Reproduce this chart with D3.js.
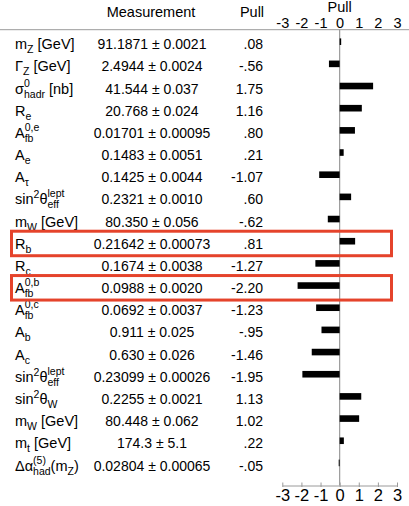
<!DOCTYPE html>
<html>
<head>
<meta charset="utf-8">
<script src="https://cdn.jsdelivr.net/npm/d3@7"></script>
<style>
  html, body { margin: 0; padding: 0; background: #fff; }
  svg { display: block; font-family: "Liberation Sans", Arial, Helvetica, sans-serif; }
</style>
</head>
<body>
<svg id="chart" width="409" height="506"></svg>
<script>
// ---------------- data ----------------
const labels = [
  "m_{Z} [GeV]",
  "Γ_{Z} [GeV]",
  "σ^{0}_{hadr} [nb]",
  "R_{e}",
  "A^{0,e}_{fb}",
  "A_{e}",
  "A_{τ}",
  "sin^{2}θ^{lept}_{eff}",
  "m_{W} [GeV]",
  "R_{b}",
  "R_{c}",
  "A^{0,b}_{fb}",
  "A^{0,c}_{fb}",
  "A_{b}",
  "A_{c}",
  "sin^{2}θ^{lept}_{eff}",
  "sin^{2}θ_{W}",
  "m_{W} [GeV]",
  "m_{t} [GeV]",
  "Δα^{(5)}_{had}(m_{Z})"
];
const measurements = [
  "91.1871 ± 0.0021",
  "2.4944 ± 0.0024",
  "41.544 ± 0.037",
  "20.768 ± 0.024",
  "0.01701 ± 0.00095",
  "0.1483 ± 0.0051",
  "0.1425 ± 0.0044",
  "0.2321 ± 0.0010",
  "80.350 ± 0.056",
  "0.21642 ± 0.00073",
  "0.1674 ± 0.0038",
  "0.0988 ± 0.0020",
  "0.0692 ± 0.0037",
  "0.911 ± 0.025",
  "0.630 ± 0.026",
  "0.23099 ± 0.00026",
  "0.2255 ± 0.0021",
  "80.448 ± 0.062",
  "174.3 ± 5.1",
  "0.02804 ± 0.00065"
];
const pullLabels = [".08", "-.56", "1.75", "1.16", ".80", ".21", "-1.07", ".60", "-.62", ".81",
  "-1.27", "-2.20", "-1.23", "-.95", "-1.46", "-1.95", "1.13", "1.02", ".22", "-.05"];
const pulls = [0.08, -0.56, 1.75, 1.16, 0.80, 0.21, -1.07, 0.60, -0.62, 0.81,
  -1.27, -2.20, -1.23, -0.95, -1.46, -1.95, 1.13, 1.02, 0.22, -0.05];
const highlighted = [9, 11];
const pullTicks = [-3, -2, -1, 0, 1, 2, 3];
const headers = ["Measurement", "Pull", "Pull"];

// ---------------- layout ----------------
const svg = d3.select("#chart");
const W = 409, H = 506;
const gray = "#9a9a9a";
const red = "#e5432b";
const fmtTick = d => String(d);   // plain hyphen-minus as in the reference

const x = d3.scaleLinear().domain([-3, 3]).range([282.3, 397]);
const y = d3.scaleBand().domain(d3.range(labels.length)).range([30.6, 474.0]).padding(0);
const yc = i => y(i) + y.bandwidth() / 2;

// header
svg.append("text").attr("x", 151).attr("y", 17).attr("text-anchor", "middle")
  .attr("font-size", 14.5).text(headers[0]);
svg.append("text").attr("x", 252).attr("y", 17).attr("text-anchor", "middle")
  .attr("font-size", 14.5).text(headers[1]);
svg.append("text").attr("x", x(0)).attr("y", 12).attr("text-anchor", "middle")
  .attr("font-size", 14.5).text(headers[2]);

// top axis (labels only)
const topAxis = d3.axisTop(x).tickValues(pullTicks).tickSize(0).tickPadding(0)
  .tickFormat(fmtTick);
const gTop = svg.append("g").attr("transform", "translate(0,28.3)").call(topAxis);
gTop.select(".domain").remove();
gTop.selectAll("text").attr("font-size", 14.5).attr("font-family", null).attr("fill", "#000")
  .attr("dy", 0);

// horizontal rule under header
svg.append("line").attr("x1", 0).attr("x2", W).attr("y1", 29.7).attr("y2", 29.7)
  .attr("stroke", gray).attr("stroke-width", 1);

// zero line
svg.append("line").attr("x1", x(0)).attr("x2", x(0)).attr("y1", 29.7).attr("y2", 485.5)
  .attr("stroke", gray).attr("stroke-width", 1.2);

// bottom axis
const botAxis = d3.axisBottom(x).tickValues(pullTicks).tickSizeInner(-3).tickSizeOuter(0)
  .tickPadding(4).tickFormat(fmtTick);
const gBot = svg.append("g").attr("transform", "translate(0,485.5)").call(botAxis);
gBot.select(".domain").attr("stroke", gray);
gBot.selectAll(".tick line").attr("stroke", gray).attr("y1", 1.5);
gBot.selectAll("text").attr("font-size", 16.5).attr("font-family", null).attr("fill", "#000");

// bars
svg.append("g").selectAll("rect").data(pulls).join("rect")
  .attr("x", d => Math.min(x(0), x(d)))
  .attr("width", d => Math.abs(x(d) - x(0)))
  .attr("y", (d, i) => yc(i) - 3.3)
  .attr("height", 6.6)
  .attr("fill", "#000");

// measurements
svg.append("g").selectAll("text").data(measurements).join("text")
  .attr("x", 152).attr("y", (d, i) => yc(i) + 7.6)
  .attr("text-anchor", "middle").attr("font-size", 14).text(d => d);

// pull labels
svg.append("g").selectAll("text").data(pullLabels).join("text")
  .attr("x", 263).attr("y", (d, i) => yc(i) + 7.6)
  .attr("text-anchor", "end").attr("font-size", 14).text(d => d);

// label parser: text with ^{..} and _{..}
function parse(s) {
  const toks = [];
  let i = 0, buf = "";
  while (i < s.length) {
    const c = s[i];
    if ((c === "^" || c === "_") && s[i + 1] === "{") {
      if (buf) { toks.push({ t: buf, m: "n" }); buf = ""; }
      const j = s.indexOf("}", i);
      toks.push({ t: s.slice(i + 2, j), m: c === "^" ? "sup" : "sub" });
      i = j + 1;
    } else { buf += c; i++; }
  }
  if (buf) toks.push({ t: buf, m: "n" });
  const out = [];
  for (let k = 0; k < toks.length; k++) {
    if (toks[k].m === "sup" && toks[k + 1] && toks[k + 1].m === "sub") {
      out.push({ m: "ss", sup: toks[k].t, sub: toks[k + 1].t }); k++;
    } else out.push(toks[k]);
  }
  return out;
}

const gLab = svg.append("g");
labels.forEach((lab, i) => {
  const g = gLab.append("g").attr("transform", `translate(15,${yc(i) + 7.6})`);
  let cx = 0;
  const put = (t, fs, dy) => {
    const el = g.append("text").attr("x", cx).attr("y", dy).attr("font-size", fs)
      .attr("xml:space", "preserve").style("white-space", "pre").text(t);
    return el.node().getComputedTextLength();
  };
  parse(lab).forEach(tk => {
    if (tk.m === "n") cx += put(tk.t, 14.5, 0);
    else if (tk.m === "sub") cx += put(tk.t, 10.5, 4);
    else if (tk.m === "sup") cx += put(tk.t, 10.5, -6);
    else {
      const w1 = put(tk.sup, 10.5, -7);
      const w2 = put(tk.sub, 10.5, 4);
      cx += Math.max(w1, w2);
    }
  });
});

// highlight boxes
svg.append("g").selectAll("rect").data(highlighted).join("rect")
  .attr("x", 11.5).attr("width", 380)
  .attr("y", i => yc(i) - 10).attr("height", 24.5)
  .attr("fill", "none").attr("stroke", red).attr("stroke-width", 3);
</script>
</body>
</html>
